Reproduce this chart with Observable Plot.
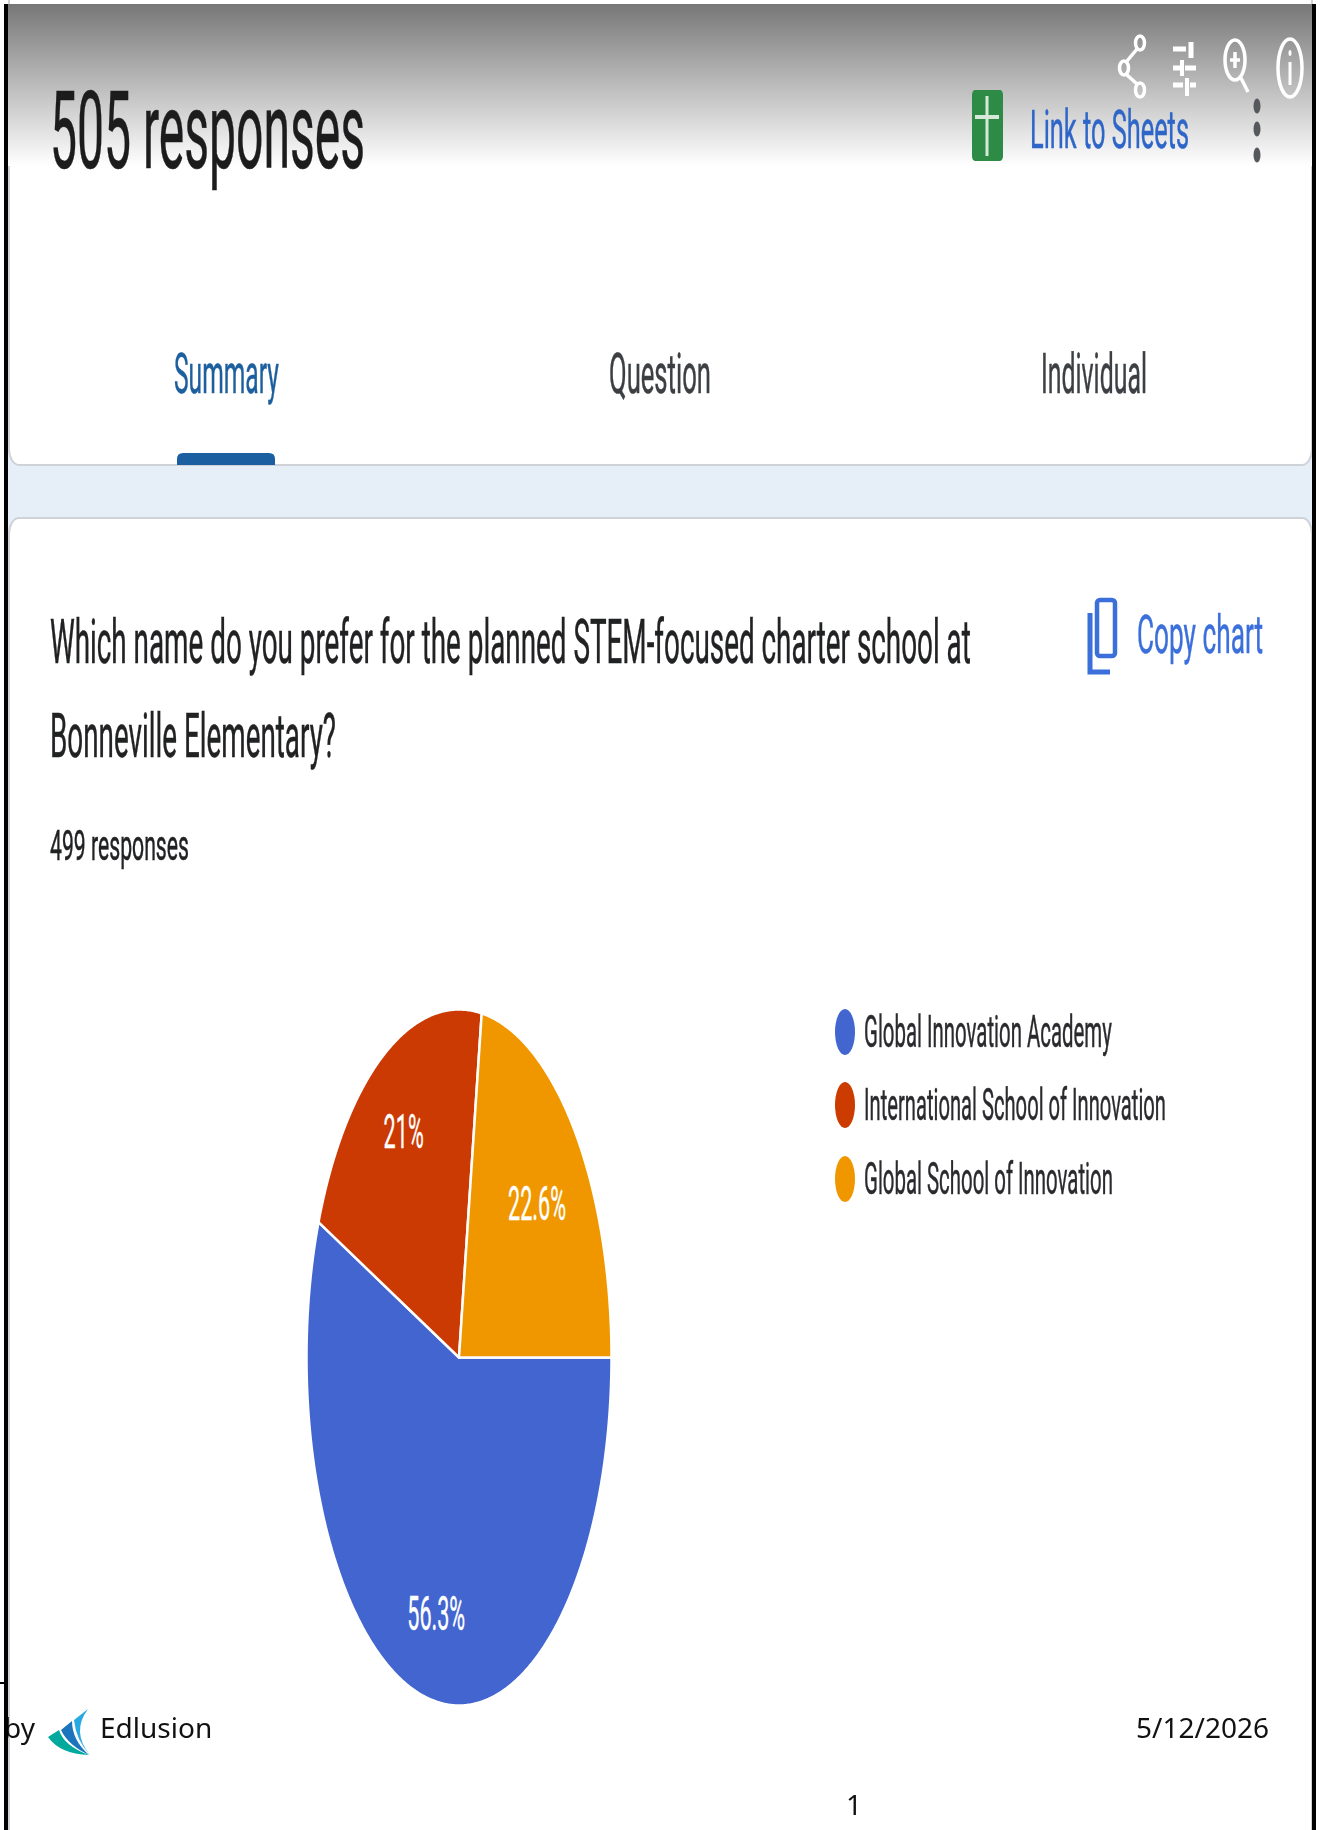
<!DOCTYPE html>
<html>
<head>
<meta charset="utf-8">
<script src="https://cdn.jsdelivr.net/npm/d3@7"></script>
<script src="https://cdn.jsdelivr.net/npm/@observablehq/plot@0.6"></script>
<style>
  html, body { margin: 0; padding: 0; background: #fff; }
  #page { position: relative; width: 1322px; height: 1830px; overflow: hidden; }
</style>
</head>
<body>
<div id="page"></div>
<script>
// Survey answers
const optionNames = ["Global Innovation Academy", "International School of Innovation", "Global School of Innovation"];
const optionShares = [56.3, 21, 22.6];
const optionLabels = ["56.3%", "21%", "22.6%"];
const optionColors = ["#4365cf", "#cc3a03", "#f09700"];
const labelRadii = [0.753, 0.742, 0.675];

// Page wording
const headerTitle = "505 responses";
const tabNames = ["Summary", "Question", "Individual"];
const questionLines = ["Which name do you prefer for the planned STEM-focused charter school at", "Bonneville Elementary?"];
const responseCount = "499 responses";
const footerDate = "5/12/2026";

const SANS = "Roboto, 'Liberation Sans', sans-serif";
const NOTO = "'Noto Sans', 'Open Sans', sans-serif";
const canvasCtx = document.createElement("canvas").getContext("2d");

// Adds text squeezed to span x0..x1, with a cap height of `cap` above the baseline.
function fitText(g, str, x0, x1, baseline, cap, color) {
  const size = cap / 0.711;
  canvasCtx.font = `400 ${size}px Roboto`;
  const sx = (x1 - x0) / canvasCtx.measureText(str).width;
  g.append("text").text(str)
    .attr("transform", `translate(${x0},${baseline}) scale(${sx},1)`)
    .attr("text-anchor", "start")
    .attr("font-family", SANS).attr("font-size", size).attr("fill", color)
    .attr("stroke", color).attr("stroke-width", 0.5);
}

function ell(g, cx, cy, rx, ry) {
  return g.append("ellipse").attr("cx", cx).attr("cy", cy).attr("rx", rx).attr("ry", ry);
}
function seg(g, x1, y1, x2, y2, color, w) {
  return g.append("line").attr("x1", x1).attr("y1", y1).attr("x2", x2).attr("y2", y2)
    .attr("stroke", color).attr("stroke-width", w);
}

// Form chrome behind the chart: header fade, tab strip and cards.
function pageBackground() {
  const g = d3.create("svg:g");
  const defs = g.append("defs");
  const grad = defs.append("linearGradient").attr("id", "headFade").attr("x1", 0).attr("x2", 0).attr("y1", 0).attr("y2", 1);
  grad.append("stop").attr("offset", 0).attr("stop-color", "#777");
  grad.append("stop").attr("offset", 1).attr("stop-color", "#fff");
  defs.append("filter").attr("id", "soft").attr("x", "-5%").attr("y", "-5%").attr("width", "110%").attr("height", "110%")
    .append("feGaussianBlur").attr("stdDeviation", 0.7);

  g.append("rect").attr("x", 6).attr("y", 400).attr("width", 1308).attr("height", 150).attr("fill", "#e6eef8");
  g.append("rect").attr("x", 9).attr("y", -20).attr("width", 1303).attr("height", 485).attr("rx", 10).attr("ry", 16)
    .attr("fill", "#fff").attr("stroke", "#cfd2d6").attr("stroke-width", 2);
  g.append("rect").attr("x", 9).attr("y", 518).attr("width", 1303).attr("height", 1400).attr("rx", 10).attr("ry", 16)
    .attr("fill", "#fff").attr("stroke", "#cfd2d6").attr("stroke-width", 2);
  g.append("rect").attr("x", 6).attr("y", 4).attr("width", 1308).attr("height", 162).attr("fill", "url(#headFade)");
  return g.node();
}

// Form chrome above the chart: wording, icons, legend, footer and frame.
function pageOverlay() {
  const g = d3.create("svg:g");
  const soft = g.append("g").attr("filter", "url(#soft)");

  fitText(soft, headerTitle, 50, 365, 168, 76, "#1b1b1f");
  fitText(soft, "Link to Sheets", 1030, 1189, 148, 38, "#2f66c8");
  fitText(soft, tabNames[0], 174, 279, 393, 39, "#1f5f9e");
  fitText(soft, tabNames[1], 609, 711, 393, 39, "#3c3f43");
  fitText(soft, tabNames[2], 1041, 1147, 393, 39, "#3c3f43");
  fitText(soft, questionLines[0], 50, 971, 663, 43, "#202124");
  fitText(soft, questionLines[1], 50, 336, 757, 43, "#202124");
  fitText(soft, responseCount, 50, 189, 860, 30, "#202124");
  fitText(soft, "Copy chart", 1137, 1263, 653, 38, "#3b6fdb");

  // Active tab marker
  soft.append("path").attr("d", "M177,465 L177,459 Q177,453 183,453 L269,453 Q275,453 275,459 L275,465 Z").attr("fill", "#1a5fa0");

  // Sheets button
  soft.append("rect").attr("x", 972).attr("y", 90).attr("width", 31).attr("height", 71).attr("rx", 3).attr("ry", 5).attr("fill", "#2e8b45");
  seg(soft, 975, 117, 999, 117, "#d5e8da", 4);
  seg(soft, 987, 96, 987, 156, "#d5e8da", 3);

  // Share icon
  for (const [cx, cy] of [[1140, 43], [1124, 68], [1140, 90]]) {
    ell(soft, cx, cy, 4.5, 7).attr("fill", "none").attr("stroke", "#fff").attr("stroke-width", 3.5);
  }
  seg(soft, 1127, 61, 1137, 49, "#fff", 3.5);
  seg(soft, 1127, 75, 1137, 84, "#fff", 3.5);

  // Slider icon
  seg(soft, 1173, 49, 1186, 49, "#fff", 5);
  seg(soft, 1191, 42, 1191, 58, "#fff", 5);
  seg(soft, 1173, 68, 1180, 68, "#fff", 5);
  seg(soft, 1185, 68, 1196, 68, "#fff", 5);
  seg(soft, 1182, 60, 1182, 76, "#fff", 4);
  seg(soft, 1173, 85, 1183, 85, "#fff", 5);
  seg(soft, 1190, 85, 1196, 85, "#fff", 5);
  seg(soft, 1187, 78, 1187, 96, "#fff", 4);

  // Zoom icon
  ell(soft, 1235, 60, 10, 20).attr("fill", "none").attr("stroke", "#fff").attr("stroke-width", 3.5);
  seg(soft, 1230, 60, 1240, 60, "#fff", 3.5);
  seg(soft, 1235, 52, 1235, 68, "#fff", 3.5);
  seg(soft, 1241, 78, 1248, 92, "#fff", 3.5);

  // Info icon
  ell(soft, 1290, 68, 12, 29).attr("fill", "none").attr("stroke", "#fff").attr("stroke-width", 3.5);
  seg(soft, 1290, 62, 1290, 85, "#fff", 3);
  ell(soft, 1290, 53, 1.5, 3).attr("fill", "#fff");

  // Overflow menu
  for (const cy of [106, 129, 155]) ell(soft, 1257, cy, 3.5, 7.5).attr("fill", "#55585c");

  // Copy icon
  soft.append("rect").attr("x", 1097).attr("y", 600).attr("width", 18).attr("height", 56).attr("rx", 3)
    .attr("fill", "none").attr("stroke", "#3b6fdb").attr("stroke-width", 4.5);
  soft.append("path").attr("d", "M1090,613 L1090,672 L1110,672").attr("fill", "none").attr("stroke", "#3b6fdb").attr("stroke-width", 5);

  // Legend
  const legendY = [1032, 1105, 1179];
  const legendEnd = [1112, 1166, 1113];
  optionNames.forEach((name, i) => {
    ell(soft, 845, legendY[i], 10, 23).attr("fill", optionColors[i]);
    fitText(soft, name, 864, legendEnd[i], legendY[i] + 15, 31, "#2b2b2e");
  });

  // Footer
  const foot = (str, x, y, anchor) => g.append("text").text(str).attr("x", x).attr("y", y)
    .attr("font-family", NOTO).attr("font-size", 28).attr("fill", "#111").attr("text-anchor", anchor || "start");
  foot("by", 4, 1738);
  foot("Edlusion", 100, 1738);
  foot(footerDate, 1269, 1738, "end");
  foot("1", 854, 1815, "middle");

  // Edlusion sail
  g.append("path").attr("d", "M88,1709 Q71,1732 90,1755 Q76,1740 74,1720 Z").attr("fill", "#29a9e1");
  g.append("path").attr("d", "M72,1721 Q72,1740 89,1755 Q68,1745 61,1730 Z").attr("fill", "#1c75bc");
  g.append("path").attr("d", "M59,1730 Q64,1746 89,1755 Q60,1754 48,1737 Z").attr("fill", "#00a99d");

  // Frame lines
  g.append("rect").attr("x", 4).attr("y", 4).attr("width", 4).attr("height", 1826).attr("fill", "#000");
  g.append("rect").attr("x", 1312).attr("y", 4).attr("width", 4).attr("height", 1826).attr("fill", "#000");
  g.append("rect").attr("x", 0).attr("y", 1682).attr("width", 6).attr("height", 2).attr("fill", "#000");
  return g.node();
}

// Clockwise slices running from three o'clock, on a unit circle.
const total = d3.sum(optionShares);
const TAU = 2 * Math.PI;
const slicePoints = [];
const labelPoints = [];
let startAngle = TAU / 4;
optionShares.forEach((share, i) => {
  const sweep = share / total * TAU;
  const steps = Math.ceil(sweep / (TAU / 720));
  slicePoints.push({name: optionNames[i], px: 0, py: 0});
  for (let s = 0; s <= steps; s++) {
    const a = startAngle + sweep * s / steps;
    slicePoints.push({name: optionNames[i], px: Math.sin(a), py: Math.cos(a)});
  }
  slicePoints.push({name: optionNames[i], px: 0, py: 0});
  const mid = startAngle + sweep / 2;
  labelPoints.push({label: optionLabels[i], px: labelRadii[i] * Math.sin(mid), py: labelRadii[i] * Math.cos(mid)});
  startAngle += sweep;
});

const chart = Plot.plot({
  width: 1322,
  height: 1830,
  margin: 0,
  style: {background: "transparent"},
  x: {domain: [-1, 1], range: [306, 611], axis: null},
  y: {domain: [-1, 1], range: [1705, 1009], axis: null},
  color: {domain: optionNames, range: optionColors},
  marks: [
    pageBackground,
    Plot.line(slicePoints, {x: "px", y: "py", z: "name", fill: "name", stroke: "#fff", strokeWidth: 2.5, curve: "linear"}),
    Plot.text(labelPoints, {
      x: "px", y: "py", text: "label", fill: "#fff", fontSize: 48, fontFamily: SANS, stroke: "#fff", strokeWidth: 0.4,
      render(index, scales, values, dimensions, context, next) {
        const node = next(index, scales, values, dimensions, context);
        // Narrow the labels to suit the tall, squeezed pie.
        node.querySelectorAll("text").forEach(t => {
          t.setAttribute("transform", `${t.getAttribute("transform") || ""} scale(0.45,1)`);
        });
        return node;
      }
    }),
    pageOverlay
  ]
});
document.getElementById("page").appendChild(chart);
</script>
</body>
</html>
